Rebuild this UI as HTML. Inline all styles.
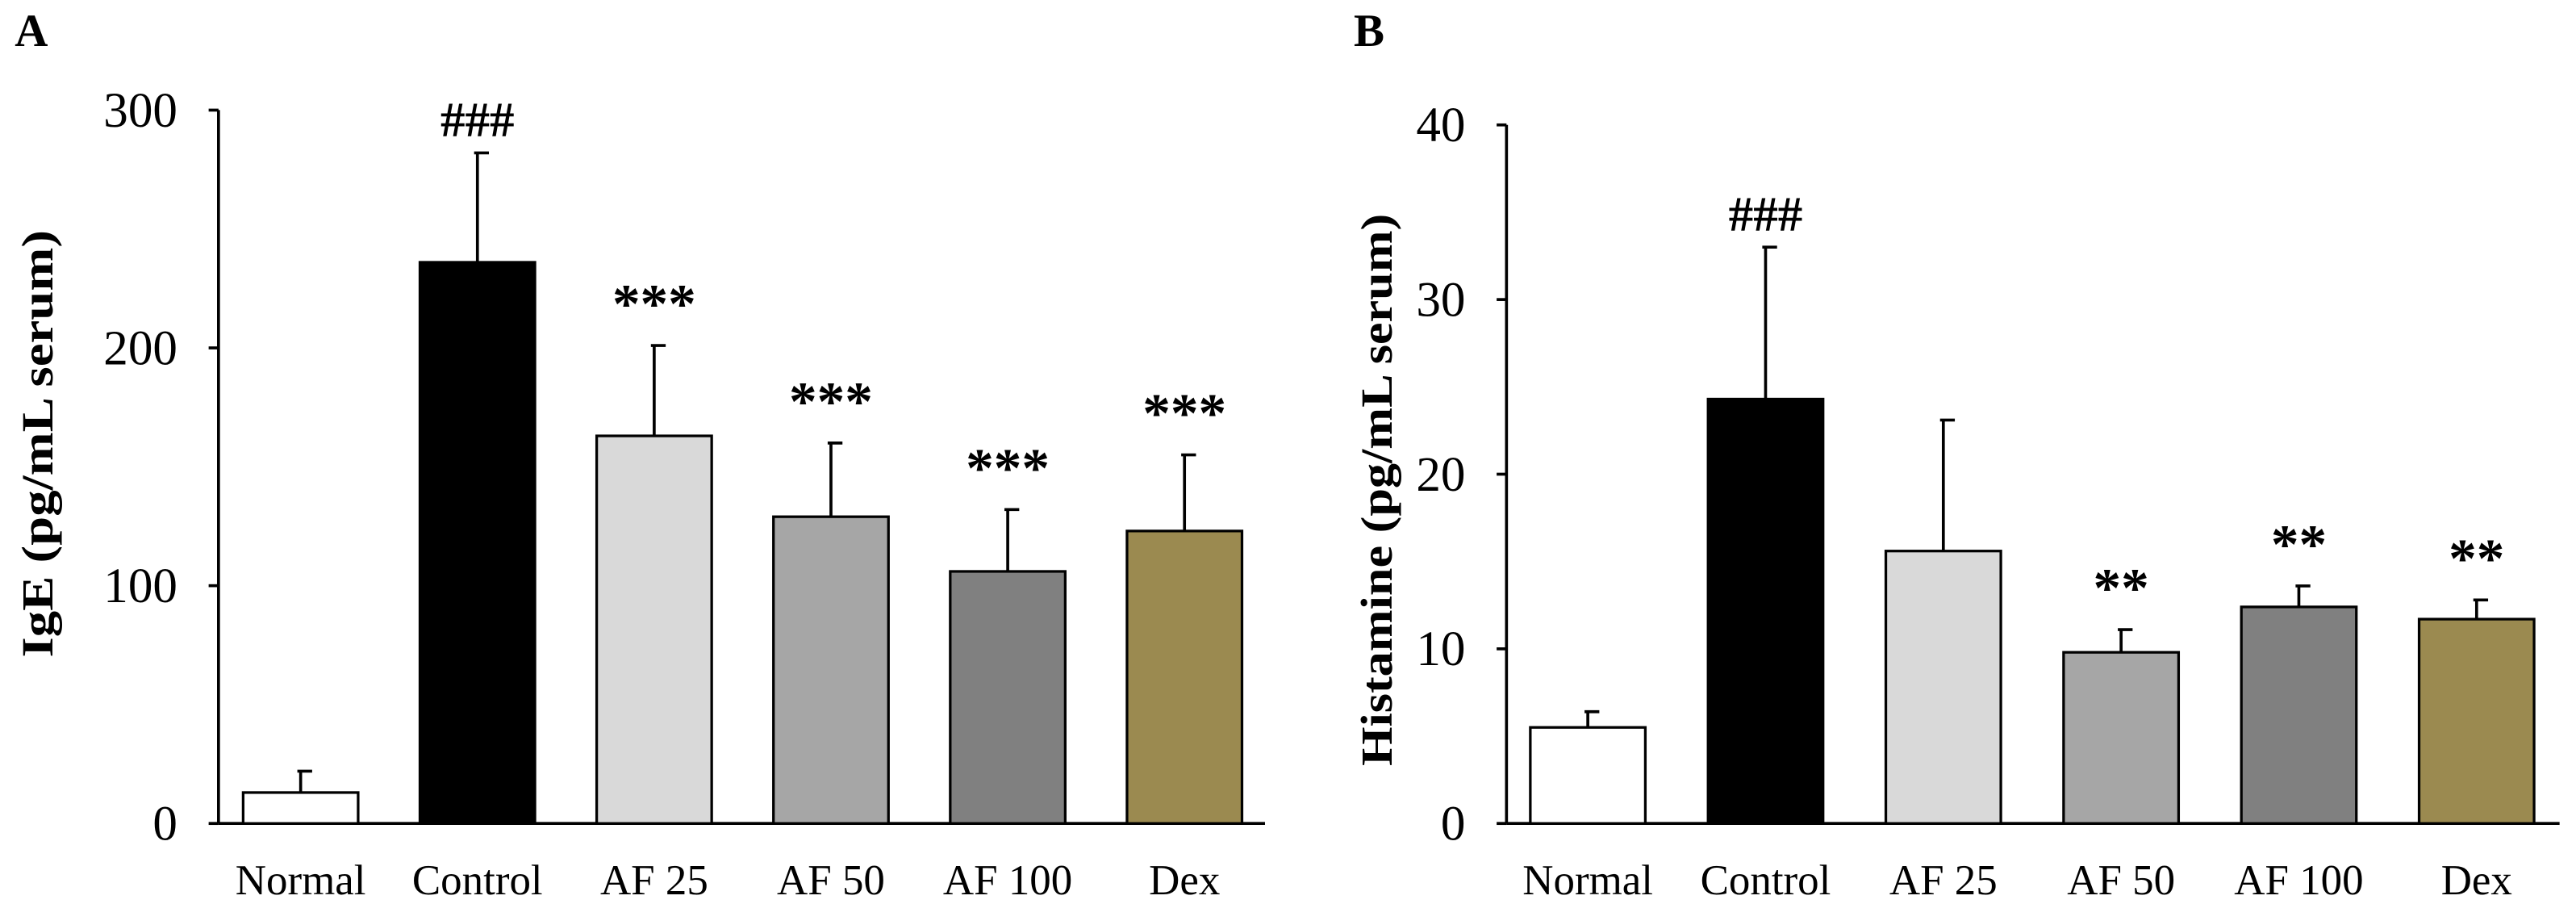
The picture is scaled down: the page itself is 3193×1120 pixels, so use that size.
<!DOCTYPE html>
<html><head><meta charset="utf-8"><style>
html,body{margin:0;padding:0;background:#fff;}
svg{display:block;font-family:"Liberation Serif",serif;}
</style></head><body>
<svg id="chart" width="3193" height="1120" viewBox="0 0 1568 550" preserveAspectRatio="none" xmlns="http://www.w3.org/2000/svg">
<text x="9" y="28" font-size="28" font-weight="bold">A</text>
<text x="824" y="28" font-size="28" font-weight="bold">B</text>
<g id="gA"></g>
<g id="gB"></g>
</svg>
<script>
const categories = ["Normal","Control","AF 25","AF 50","AF 100","Dex"];
const fills = ["#ffffff","#000000","#d9d9d9","#a6a6a6","#808080","#9b8a50"];
const igeValues = [13,236,163,129,106,123];
const igeErrors = [9,46,38,31,26,32];
const igeMarks = ["","###","***","***","***","***"];
const igeTicks = [0,100,200,300];
const histValues = [5.5,24.3,15.6,9.8,12.4,11.7];
const histErrors = [0.9,8.7,7.5,1.3,1.2,1.1];
const histMarks = ["","###","","**","**","**"];
const histTicks = [0,10,20,30,40];
const NS="http://www.w3.org/2000/svg";
function mk(parent,tag,attrs){const e=document.createElementNS(NS,tag);for(const k in attrs)e.setAttribute(k,attrs[k]);parent.appendChild(e);return e;}
function draw(g,cfg){
  const y=v=>cfg.y0-(v/cfg.max)*(cfg.y0-cfg.yTop);
  const x=i=>cfg.first+i*cfg.step;
  const ax=mk(g,'line',{x1:cfg.ax,y1:y(cfg.max),x2:cfg.ax,y2:cfg.y0,stroke:'#000','stroke-width':1.8});
  
  
  const bx=mk(g,'line',{x1:cfg.ax,y1:cfg.y0,x2:cfg.axEnd,y2:cfg.y0,stroke:'#000','stroke-width':1.8});
  
  
  cfg.ticks.forEach(t=>{
    const tl=mk(g,'line',{x1:cfg.ax-6,y1:y(t),x2:cfg.ax,y2:y(t),stroke:'#000','stroke-width':1.8});
    
    
    const tx=mk(g,'text',{x:cfg.ax-25,y:y(t)+10,'font-size':30,'text-anchor':'end'});
    tx.textContent=t;
    
    
  });
  cfg.values.forEach((v,i)=>{
    const cx=x(i);
    const e=mk(g,'line',{x1:cx,y1:y(v),x2:cx,y2:y(v+cfg.errors[i]),stroke:'#000','stroke-width':1.8});
    
    
    const c=mk(g,'line',{x1:cx-2,y1:y(v+cfg.errors[i]),x2:cx+7,y2:y(v+cfg.errors[i]),stroke:'#000','stroke-width':1.8});
    
    
    const r=mk(g,'rect',{x:cx-35,y:y(v),width:70,height:cfg.y0-y(v),fill:fills[i],stroke:'#000','stroke-width':1.6});
    
    
    if(cfg.marks[i]){
      const isHash=cfg.marks[i][0]==='#';
      const m=mk(g,'text',{x:cx,y:y(v+cfg.errors[i])-(isHash?10:14),'font-size':isHash?30:34,'font-weight':'bold','text-anchor':'middle'});
      m.textContent=cfg.marks[i];
      
      
    }
    const l=mk(g,'text',{x:cx,y:cfg.y0+43,'font-size':26,'text-anchor':'middle'});
    l.textContent=categories[i];
    
    
  });
  const tt=mk(g,'text',{x:0,y:0,'font-size':27,'font-weight':'bold','text-anchor':'middle',textLength:cfg.titleLen,lengthAdjust:'spacingAndGlyphs',transform:`translate(${cfg.titleX},${cfg.titleY}) rotate(-90)`});
  tt.textContent=cfg.title;
  
  
}
draw(document.getElementById('gA'),{ax:133,axEnd:770,y0:501,yTop:67,max:300,ticks:igeTicks,first:183,step:107.6,values:igeValues,errors:igeErrors,marks:igeMarks,titleX:32,titleY:270,titleLen:260,title:"IgE (pg/mL serum)"});
draw(document.getElementById('gB'),{ax:917,axEnd:1558,y0:501,yTop:76,max:40,ticks:histTicks,first:966.5,step:108.2,values:histValues,errors:histErrors,marks:histMarks,titleX:847,titleY:298,titleLen:336,title:"Histamine (pg/mL serum)"});
</script>
</body></html>
